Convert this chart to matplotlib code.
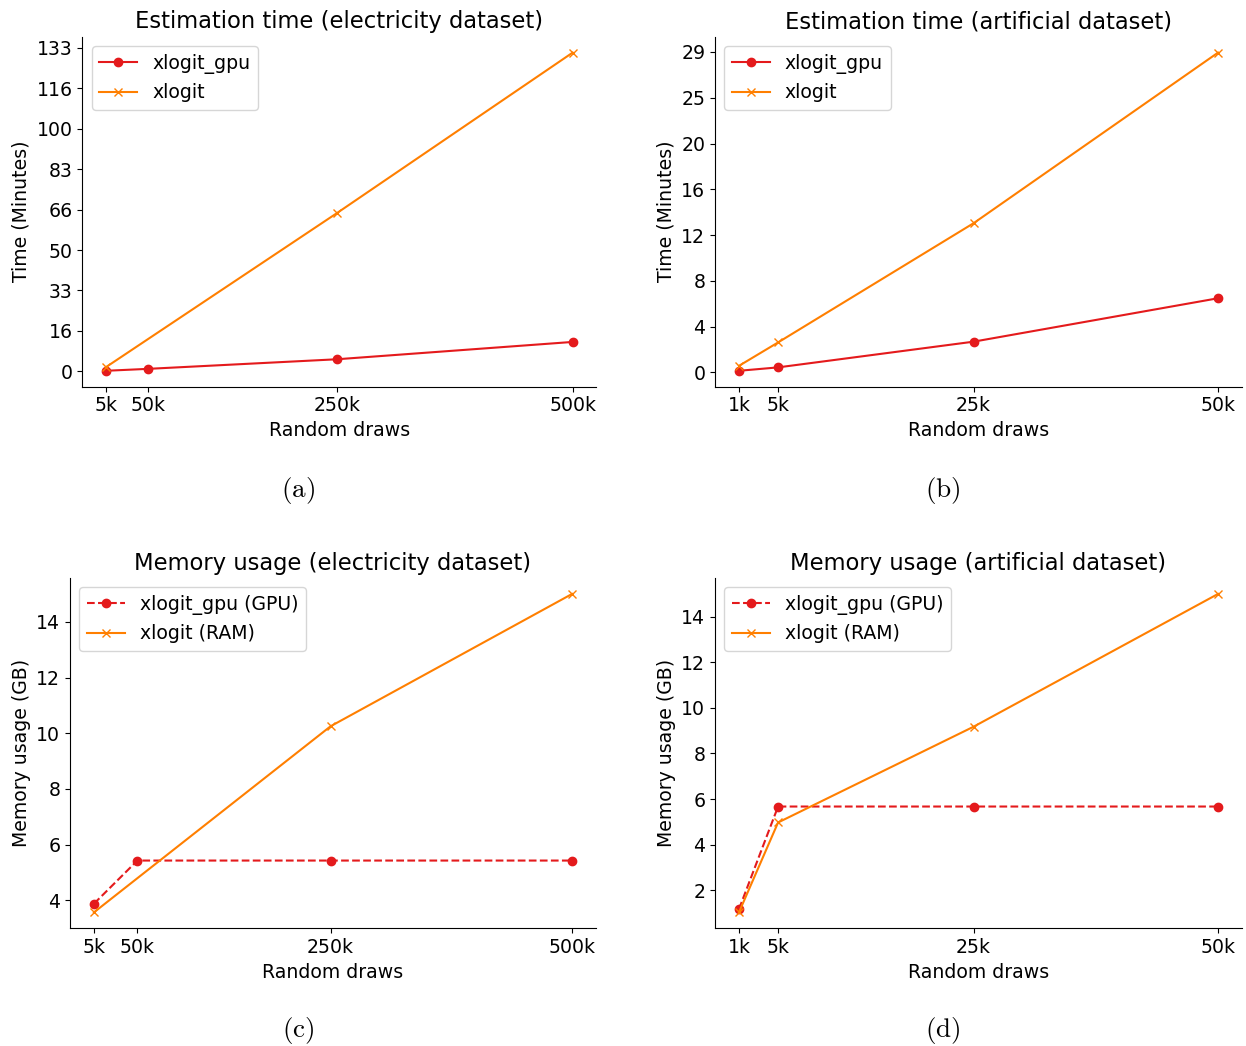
import matplotlib
matplotlib.use("Agg")
import matplotlib.pyplot as plt
import numpy as np

plt.rcParams['font.size'] = 13.6
plt.rcParams['mathtext.fontset'] = 'cm'

red = '#e41a1c'
orange = '#ff7f00'

# (a) estimation time, electricity dataset
elec_draws = [5000, 50000, 250000, 500000]
elec_ticklabels = ['5k', '50k', '250k', '500k']
elec_time_gpu = [0.2, 1.0, 4.95, 12.1]
elec_time_cpu_draws = [5000, 250000, 500000]
elec_time_cpu = [1.65, 65.2, 131.4]
elec_time_yticks = [0, 16.67, 33.33, 50.0, 66.67, 83.33, 100.0, 116.67, 133.33]
elec_time_ylabels = ['0', '16', '33', '50', '66', '83', '100', '116', '133']

# (b) estimation time, artificial dataset
art_draws = [1000, 5000, 25000, 50000]
art_ticklabels = ['1k', '5k', '25k', '50k']
art_time_gpu = [0.15, 0.46, 2.8, 6.75]
art_time_cpu = [0.6, 2.73, 13.58, 29.1]
art_time_yticks = [0, 4.17, 8.33, 12.5, 16.67, 20.83, 25.0, 29.17]
art_time_ylabels = ['0', '4', '8', '12', '16', '20', '25', '29']

# (c) memory, electricity dataset
elec_mem_gpu = [3.88, 5.43, 5.43, 5.43]
elec_mem_cpu_draws = [5000, 250000, 500000]
elec_mem_cpu = [3.57, 10.25, 15.0]

# (d) memory, artificial dataset
art_mem_gpu = [1.17, 5.67, 5.67, 5.67]
art_mem_cpu = [1.03, 4.97, 9.17, 14.99]

W, H = 1246, 1046
fig = plt.figure(figsize=(W / 100, H / 100), dpi=100)

def box(x0, x1, y0, y1):
    return [x0 / W, 1 - y1 / H, (x1 - x0) / W, (y1 - y0) / H]

ax_a = fig.add_axes(box(82.4, 596, 36.7, 386.7))
ax_b = fig.add_axes(box(715, 1242, 36.7, 386.7))
ax_c = fig.add_axes(box(70, 596, 578, 928.3))
ax_d = fig.add_axes(box(715, 1242, 578, 928.3))

for ax in [ax_a, ax_b, ax_c, ax_d]:
    ax.spines['top'].set_visible(False)
    ax.spines['right'].set_visible(False)
    ax.set_xlabel('Random draws')

title_size = 16.3

# time plots
ax_a.plot(elec_draws, elec_time_gpu, color=red, marker='o', label='xlogit_gpu')
ax_a.plot(elec_time_cpu_draws, elec_time_cpu, color=orange, marker='x', label='xlogit')
ax_a.set_xticks(elec_draws)
ax_a.set_xticklabels(elec_ticklabels)
ax_a.set_yticks(elec_time_yticks)
ax_a.set_yticklabels(elec_time_ylabels)
ax_a.set_ylabel('Time (Minutes)')
ax_a.set_title('Estimation time (electricity dataset)', fontsize=title_size)
ax_a.legend(loc='upper left')

ax_b.plot(art_draws, art_time_gpu, color=red, marker='o', label='xlogit_gpu')
ax_b.plot(art_draws, art_time_cpu, color=orange, marker='x', label='xlogit')
ax_b.set_xticks(art_draws)
ax_b.set_xticklabels(art_ticklabels)
ax_b.set_yticks(art_time_yticks)
ax_b.set_yticklabels(art_time_ylabels)
ax_b.set_ylabel('Time (Minutes)')
ax_b.set_title('Estimation time (artificial dataset)', fontsize=title_size)
ax_b.legend(loc='upper left')

# memory plots
ax_c.plot(elec_draws, elec_mem_gpu, color=red, marker='o', linestyle='--', label='xlogit_gpu (GPU)')
ax_c.plot(elec_mem_cpu_draws, elec_mem_cpu, color=orange, marker='x', label='xlogit (RAM)')
ax_c.set_xticks(elec_draws)
ax_c.set_xticklabels(elec_ticklabels)
ax_c.set_ylabel('Memory usage (GB)')
ax_c.set_title('Memory usage (electricity dataset)', fontsize=title_size)
ax_c.legend(loc='upper left')

ax_d.plot(art_draws, art_mem_gpu, color=red, marker='o', linestyle='--', label='xlogit_gpu (GPU)')
ax_d.plot(art_draws, art_mem_cpu, color=orange, marker='x', label='xlogit (RAM)')
ax_d.set_xticks(art_draws)
ax_d.set_xticklabels(art_ticklabels)
ax_d.set_ylabel('Memory usage (GB)')
ax_d.set_title('Memory usage (artificial dataset)', fontsize=title_size)
ax_d.legend(loc='upper left')

# sub-figure captions
cap_size = 19.5
fig.text(298 / W, 1 - 490 / H, r'$\mathrm{(a)}$', ha='center', va='center', fontsize=cap_size)
fig.text(943 / W, 1 - 490 / H, r'$\mathrm{(b)}$', ha='center', va='center', fontsize=cap_size)
fig.text(298 / W, 1 - 1031 / H, r'$\mathrm{(c)}$', ha='center', va='center', fontsize=cap_size)
fig.text(943 / W, 1 - 1031 / H, r'$\mathrm{(d)}$', ha='center', va='center', fontsize=cap_size)

fig.savefig('out.png', dpi=100)
